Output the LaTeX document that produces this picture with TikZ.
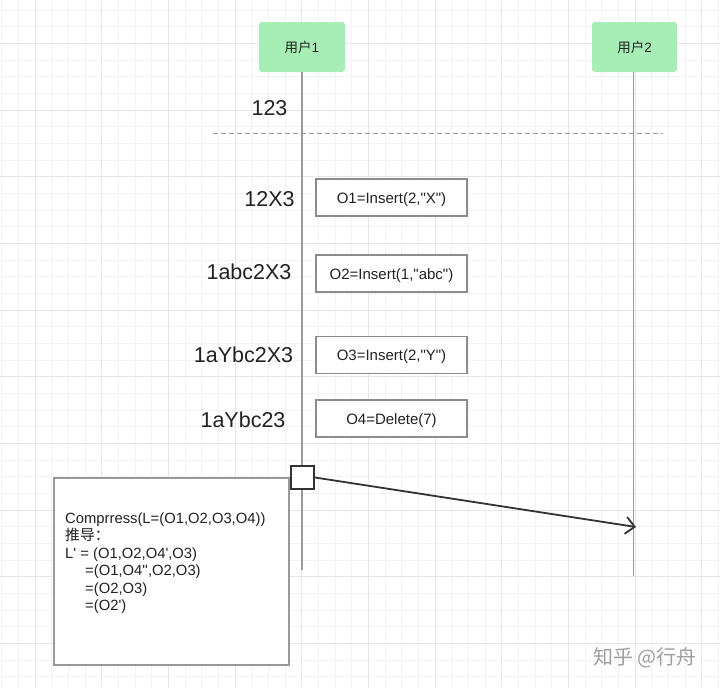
\documentclass[tikz,border=0pt]{standalone}
\usepackage{fontspec}
\setmainfont{Liberation Sans}[Ligatures=TeXOff]
\newfontfamily\cjk{Noto Sans CJK SC}
\usetikzlibrary{arrows.meta}
\definecolor{gridminor}{HTML}{F3F3F3}
\definecolor{gridmajor}{HTML}{E6E6E6}
\definecolor{usergreen}{HTML}{A7EEB6}
\definecolor{lifegray}{HTML}{999999}
\definecolor{boxgray}{HTML}{8C8C8C}
\definecolor{ink}{HTML}{333333}
\definecolor{txt}{HTML}{222222}
\tikzset{
  userbox/.style={rectangle, rounded corners=3pt, fill=usergreen, minimum width=86pt, minimum height=50pt, inner sep=0pt, font=\fontsize{13.5}{16}\selectfont, text=txt},
  lifeline/.style={draw=lifegray, line width=1.8pt},
  opbox/.style={rectangle, draw=boxgray, line width=1.4pt, fill=white, minimum width=151pt, minimum height=37pt, inner sep=0pt, text height=13pt, text depth=2pt, font=\fontsize{15}{17}\selectfont, text=txt},
  statelabel/.style={inner sep=0pt, font=\fontsize{21.5}{24}\selectfont, text=txt},
  sepline/.style={draw=lifegray, line width=1pt, dash pattern=on 5pt off 3pt},
  marker/.style={rectangle, draw=ink, line width=2pt, fill=white, minimum size=23pt, inner sep=0pt},
  notebox/.style={rectangle, draw=lifegray, line width=2pt, fill=white, minimum width=235pt, minimum height=187pt, inner sep=0pt},
  notetext/.style={inner sep=0pt, align=left, font=\fontsize{14.8}{17.5}\selectfont, text=txt},
  msg/.style={draw=ink, line width=1.8pt, -{Straight Barb[length=9pt, width=17pt, line width=1.8pt]}},
  watermark/.style={inner sep=0pt, font=\cjk\fontsize{20}{22}\selectfont, text=black!38}
}
\begin{document}
\begin{tikzpicture}[x=1pt, y=-1pt]
\useasboundingbox (0,0) rectangle (720,688);
\fill[white] (0,0) rectangle (720,688);
% grid
\foreach \i in {0,...,43} \draw[gridminor, line width=0.8pt] ({1.667+16.667*\i},0) -- ++(0,688);
\foreach \i in {0,...,41} \draw[gridminor, line width=0.8pt] (0,{10+16.667*\i}) -- ++(720,0);
\foreach \i in {0,...,10} \draw[gridmajor, line width=1pt] ({35+66.667*\i},0) -- ++(0,688);
\foreach \i in {0,...,9} \draw[gridmajor, line width=1pt] (0,{43.333+66.667*\i}) -- ++(720,0);

% users and lifelines
\node[userbox] (u1) at (302,47) {{\cjk 用户}1};
\node[userbox, minimum width=85pt] (u2) at (634.5,47) {{\cjk 用户}2};
\coordinate (l1end) at (302,570);
\coordinate (l2end) at (633.5,576);
\draw[lifeline] (u1.south) -- (l1end);
\draw[lifeline] (u2.south -| l2end) -- (l2end);

% initial state and separator
\node[statelabel] (s0) at (269.5,108) {123};
\coordinate (sepL) at (213,133);
\coordinate (sepR) at (663,133);
\draw[sepline] (sepL) -- (sepR);

% operations
\node[opbox] (o1) at (391.5,197.5) {O1=Insert(2,"X")};
\node[opbox] (o2) at (391.5,273.5) {O2=Insert(1,"abc")};
\node[opbox] (o3) at (391.5,355) {O3=Insert(2,"Y")};
\node[opbox] (o4) at (391.5,418.5) {O4=Delete(7)};

\node[statelabel] (s1) at (269.5,199) {12X3};
\node[statelabel] (s2) at (249,272) {1abc2X3};
\node[statelabel] (s3) at (243.5,355) {1aYbc2X3};
\node[statelabel] (s4) at (243,420) {1aYbc23};

% note box
\node[notebox, anchor=north west] (note) at (53,477) {};
\node[notetext, anchor=north west] (notetxt) at (65,512.5) {Comprress(L=(O1,O2,O3,O4))\\
{\cjk 推导：}\\
L' = (O1,O2,O4',O3)\\
\hspace*{20pt}=(O1,O4'',O2,O3)\\
\hspace*{20pt}=(O2,O3)\\
\hspace*{20pt}=(O2')};

% marker and message
\node[marker] (mk) at (302.5,477.5) {};
\coordinate (tip) at (636,527);
\draw[msg] (mk.east) -- (tip);

% watermark
\node[watermark] (wm) at (645,658) {知乎 @行舟};
\end{tikzpicture}
\end{document}
